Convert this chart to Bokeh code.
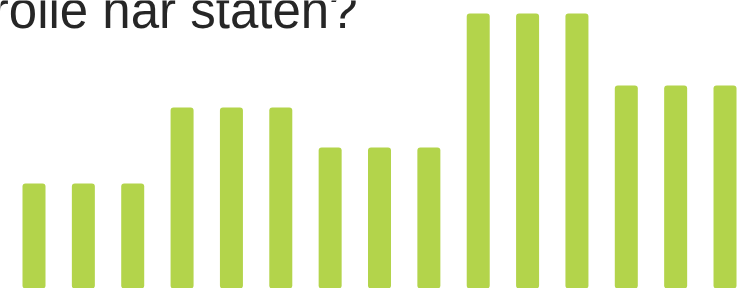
from bokeh.plotting import figure
from bokeh.models import Range1d, Label, ColumnDataSource
from bokeh.embed import file_html
from bokeh.resources import INLINE

positions = list(range(15))
values = [105, 105, 105, 181, 181, 181, 141, 141, 141, 275, 275, 275, 203, 203, 203]
title_text = "Hvilken rolle har staten?"

source = ColumnDataSource(data=dict(x=positions, top=values))

p = figure(width=745, height=288, output_backend="svg", toolbar_location=None,
           x_axis_type=None, y_axis_type=None,
           x_range=Range1d(-0.6787, 14.415), y_range=Range1d(0, 288),
           min_border=0, min_border_left=0, min_border_right=0,
           min_border_top=0, min_border_bottom=0)
p.title.visible = False
p.grid.visible = False
p.outline_line_color = None
p.background_fill_color = "white"
p.border_fill_color = "white"

p.vbar(x="x", top="top", bottom=0, width=0.466, source=source,
       fill_color="#b3d44b", line_color=None, border_radius=3)

lbl = Label(x=357, y=278, x_units="screen", y_units="screen", text=title_text,
            text_font="Liberation Sans", text_font_size="51px",
            text_color="#262626", text_align="right", text_baseline="alphabetic")
p.add_layout(lbl)

open("out.html", "w").write(file_html(p, INLINE))
